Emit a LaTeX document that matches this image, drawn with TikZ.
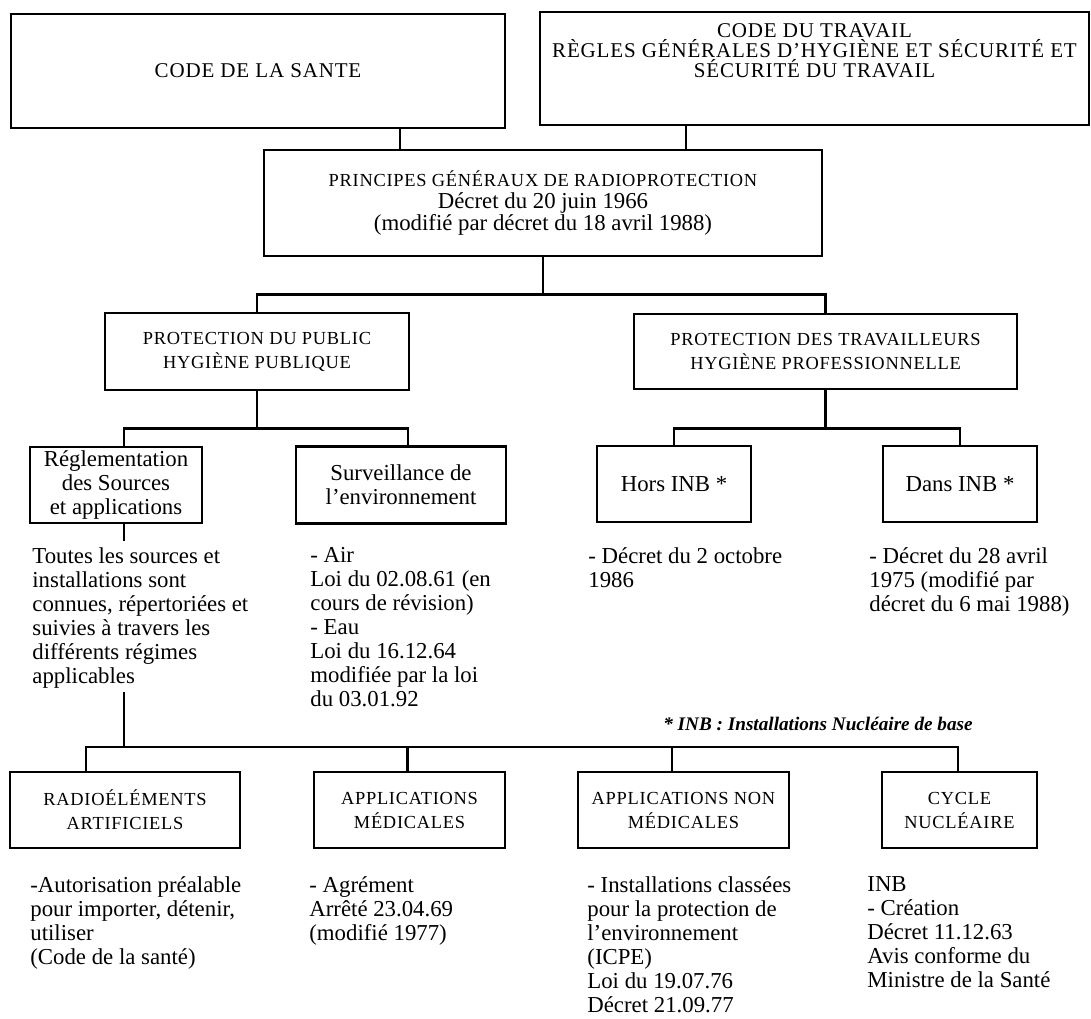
\documentclass[tikz,border=0pt]{standalone}
\usepackage{fontspec}
\setmainfont{Liberation Serif}
\newcommand{\txtfont}{\fontsize{11.4pt}{12pt}\selectfont}
\newcommand{\capfont}{\fontsize{9.2pt}{12pt}\selectfont\addfontfeatures{LetterSpace=4}}
\newcommand{\topfont}{\fontsize{10.5pt}{10pt}\selectfont\addfontfeatures{LetterSpace=4}\lineskiplimit=-5pt}
\newcommand{\princfont}{\fontsize{11.4pt}{11pt}\selectfont\lineskiplimit=-5pt}
\newcommand{\inbfont}{\fontsize{9.6pt}{12pt}\selectfont\bfseries\itshape}

\begin{document}
\begin{tikzpicture}[x=0.5pt, y=-0.5pt, node distance=143pt,
  box/.style={draw, line width=1.4pt, align=center, inner sep=0pt, font=\txtfont},
  link/.style={line width=1.1pt},
  note/.style={align=left, anchor=north west, inner sep=0pt, font=\txtfont}]
\useasboundingbox (0,0) rectangle (1091,1018);

% codes
\node[box, font=\topfont, minimum width=247pt, minimum height=57pt] (sante) at (258,71) {CODE DE LA SANTE};
\node[box, minimum width=274.5pt, minimum height=56.5pt] (travail) at (814.5,68.5) {};
\node[font=\topfont, align=center, inner sep=0pt] (travailtxt) at ([yshift=9pt]travail.center)
  {CODE DU TRAVAIL\\RÈGLES GÉNÉRALES D’HYGIÈNE ET SÉCURITÉ ET\\SÉCURITÉ DU TRAVAIL};
\node[box, font=\princfont, minimum width=279pt, minimum height=53pt] (principes) at (543,203)
  {{\capfont PRINCIPES GÉNÉRAUX DE RADIOPROTECTION}\\Décret du 20 juin 1966\\(modifié par décret du 18 avril 1988)};

% protection
\node[box, font=\capfont, minimum width=152pt, minimum height=38.5pt] (public) at (257,351.5) {PROTECTION DU PUBLIC\\HYGIÈNE PUBLIQUE};
\node[box, font=\capfont, minimum width=191.5pt, minimum height=37.5pt, node distance=284.25pt, right of=public] (travailleurs) {PROTECTION DES TRAVAILLEURS\\HYGIÈNE PROFESSIONNELLE};

\node[box, minimum width=86pt, minimum height=38pt] (regl) at (116,485) {Réglementation\\des Sources\\et applications};
\node[box, minimum width=105pt, minimum height=38.5pt, node distance=142.5pt, right of=regl] (surv) {Surveillance de\\l’environnement};
\node[box, minimum width=77pt, minimum height=38pt] (hors) at (674,484) {Hors INB *};
\node[box, minimum width=77pt, minimum height=38pt, right of=hors] (dans) {Dans INB *};

\node[note] (toutes) at (32,547) {Toutes les sources et\\installations sont\\connues, répertoriées et\\suivies à travers les\\différents régimes\\applicables};
\node[note] (air) at (310,547) {- Air\\Loi du 02.08.61 (en\\cours de révision)\\- Eau\\Loi du 16.12.64\\modifiée par la loi\\du 03.01.92};
\node[note] (horstxt) at (588,547) {- Décret du 2 octobre\\1986};
\node[note] (danstxt) at (869,547) {- Décret du 28 avril\\1975 (modifié par\\décret du 6 mai 1988)};

\node[font=\inbfont, inner sep=0pt] (inbnote) at (818,724) {* INB : Installations Nucléaire de base};

% sources
\node[box, font=\capfont, minimum width=115pt, minimum height=38pt] (radio) at (125,810) {RADIOÉLÉMENTS\\ARTIFICIELS};
\node[box, font=\capfont, minimum width=95.5pt, minimum height=38pt, node distance=142.25pt, right of=radio] (applmed) {APPLICATIONS\\MÉDICALES};
\node[box, font=\capfont, minimum width=105.5pt, minimum height=38pt, node distance=137pt, right of=applmed] (nonmed) {APPLICATIONS NON\\MÉDICALES};
\node[box, font=\capfont, minimum width=77.5pt, minimum height=38pt, node distance=138pt, right of=nonmed] (cycle) {CYCLE\\NUCLÉAIRE};

\node[note] (autor) at (30,876) {-Autorisation préalable\\pour importer, détenir,\\utiliser\\(Code de la santé)};
\node[note] (agrem) at (309,876) {- Agrément\\Arrêté 23.04.69\\(modifié 1977)};
\node[note] (instal) at (587,876) {- Installations classées\\pour la protection de\\l’environnement\\(ICPE)\\Loi du 19.07.76\\Décret 21.09.77};
\node[note] (inbtxt) at (867,876) {INB\\- Création\\Décret 11.12.63\\Avis conforme du\\Ministre de la Santé};

% links
\coordinate (bus) at ([yshift=12pt]radio.north);
\draw[link] ([xshift=-71.5pt]principes.north) -- ([xshift=-71.5pt]principes.north |- sante.south);
\draw[link] ([xshift=71.5pt]principes.north) -- ([xshift=71.5pt]principes.north |- travail.south);
\draw[link] (principes.south) -- ++(0,37) -| (public.north);
\draw[link] (principes.south) -- ++(0,37) -| (travailleurs.north);
\draw[link] (public.south) -- ++(0,37) -| ([xshift=4pt]regl.north);
\draw[link] (public.south) -- ++(0,37) -| ([xshift=3.5pt]surv.north);
\draw[link] (travailleurs.south) -- ++(0,38) -| (hors.north);
\draw[link] (travailleurs.south) -- ++(0,38) -| (dans.north);
\draw[link] ([xshift=4pt]regl.south) -- ([xshift=4pt,yshift=3pt]regl.south |- toutes.north);
\draw[link] ([xshift=4pt,yshift=-2pt]regl.south |- toutes.south) -- ([xshift=4pt]regl.south |- bus);
\draw[link] ([xshift=-19.5pt]radio.north) -- ([xshift=-19.5pt]radio.north |- bus) -| ([xshift=-0.75pt]cycle.north);
\draw[link] ([xshift=-1pt]applmed.north) -- ([xshift=-1pt]applmed.north |- bus);
\draw[link] ([xshift=-5.75pt]nonmed.north) -- ([xshift=-5.75pt]nonmed.north |- bus);
\end{tikzpicture}
\end{document}
